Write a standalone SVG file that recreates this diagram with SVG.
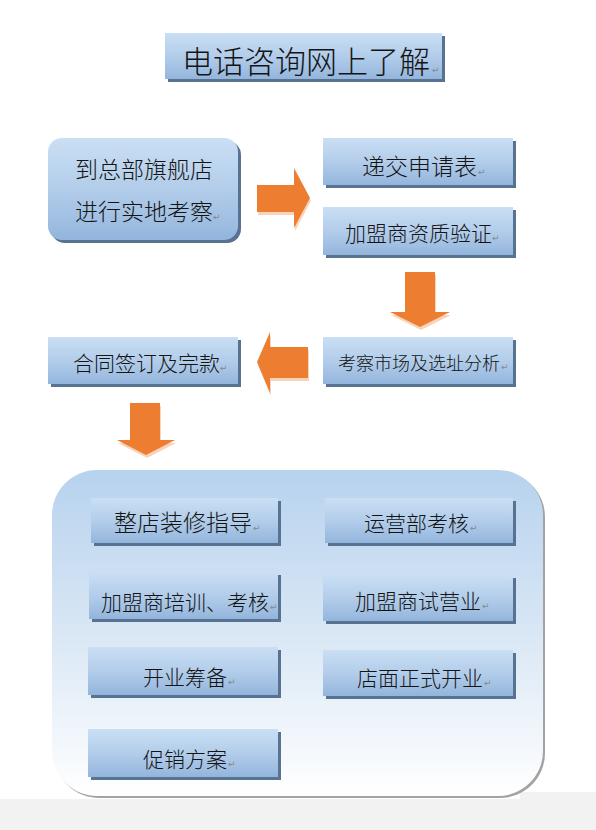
<svg xmlns="http://www.w3.org/2000/svg" width="596" height="830" viewBox="0 0 596 830">
<style>
.bx{fill:url(#boxg)}
.sh{fill:#587392}
.t{font-family:"Noto Sans CJK SC","Noto Sans",sans-serif;font-weight:300;fill:#141414}
.rm{font-family:"DejaVu Sans",sans-serif;font-size:9px;fill:#888}
.arr{fill:#ed7d31}
.arrs{fill:#f3b58a;opacity:0.6}
</style>
<defs>
<linearGradient id="boxg" x1="0" y1="0" x2="0" y2="1">
<stop offset="0" stop-color="#cadff4"/>
<stop offset="0.55" stop-color="#b0cbe9"/>
<stop offset="1" stop-color="#93b5dc"/>
</linearGradient>
<linearGradient id="cont" x1="0" y1="0" x2="0" y2="1">
<stop offset="0" stop-color="#b7d2ee"/>
<stop offset="0.5" stop-color="#d9e7f5"/>
<stop offset="1" stop-color="#ffffff"/>
</linearGradient>
</defs>
<rect x="0" y="0" width="596" height="830" fill="#ffffff"/>
<rect x="0" y="799" width="596" height="31" fill="#f2f2f2"/>
<rect x="520" y="792" width="76" height="8" fill="#f2f2f2"/>

<g id="title">
<rect class="sh" x="168" y="36" width="277" height="46"/>
<rect class="bx" x="165" y="33" width="277" height="46"/>
<text class="t" x="182" y="73" font-size="31">电话咨询网上了解</text>
<text class="rm" x="432" y="73">↵</text>
</g>

<g id="n-visit">
<rect class="sh" x="51" y="141" width="190" height="102" rx="14"/>
<rect class="bx" x="48" y="138" width="190" height="102" rx="14"/>
<text class="t" x="75" y="178" font-size="23">到总部旗舰店</text>
<text class="t" x="75" y="220" font-size="23">进行实地考察</text>
<text class="rm" x="213" y="220">↵</text>
</g>

<g id="n-apply">
<rect class="sh" x="326" y="141" width="190" height="47"/>
<rect class="bx" x="323" y="138" width="190" height="47"/>
<text class="t" x="362" y="175" font-size="23">递交申请表</text>
<text class="rm" x="478" y="175">↵</text>
</g>

<g id="n-verify">
<rect class="sh" x="326" y="210" width="190" height="48"/>
<rect class="bx" x="323" y="207" width="190" height="48"/>
<text class="t" x="345" y="241" font-size="21">加盟商资质验证</text>
<text class="rm" x="492" y="241">↵</text>
</g>

<g id="n-market">
<rect class="sh" x="326" y="340" width="190" height="47"/>
<rect class="bx" x="323" y="337" width="190" height="47"/>
<text class="t" x="338" y="370" font-size="18">考察市场及选址分析</text>
<text class="rm" x="501" y="370">↵</text>
</g>

<g id="n-contract">
<rect class="sh" x="51" y="340" width="190" height="47"/>
<rect class="bx" x="48" y="337" width="190" height="47"/>
<text class="t" x="73" y="371" font-size="21">合同签订及完款</text>
<text class="rm" x="220" y="371">↵</text>
</g>

<g id="connectors">
<polygon class="arrs" points="258,188 295,188 295,171 311,201 295,231 295,215 258,215"/>
<polygon class="arr" points="257,185 294,185 294,168 310,198 294,228 294,212 257,212"/>
<polygon class="arrs" points="406,275 436,275 436,315 451,315 421,330 391,315 406,315"/>
<polygon class="arr" points="405,272 435,272 435,312 450,312 420,327 390,312 405,312"/>
<polygon class="arrs" points="309,350 271,350 271,335 258,365 271,396 271,381 309,381"/>
<polygon class="arr" points="308,347 270,347 270,332 257,362 270,393 270,378 308,378"/>
<polygon class="arrs" points="131,406 161,406 161,443 176,443 147,458 118,443 131,443"/>
<polygon class="arr" points="130,403 160,403 160,440 175,440 146,455 117,440 130,440"/>
</g>

<g id="container">
<rect x="54" y="472" width="491" height="326" rx="45" fill="#a3a3a3"/>
<rect x="52" y="470" width="491" height="326" rx="45" fill="url(#cont)"/>
</g>

<g id="n-decor">
<rect class="sh" x="94" y="501" width="187" height="45"/>
<rect class="bx" x="91" y="498" width="187" height="45"/>
<text class="t" x="114" y="531" font-size="23">整店装修指导</text>
<text class="rm" x="253" y="531">↵</text>
</g>

<g id="n-ops">
<rect class="sh" x="328" y="501" width="188" height="45"/>
<rect class="bx" x="325" y="498" width="188" height="45"/>
<text class="t" x="364" y="531" font-size="21">运营部考核</text>
<text class="rm" x="470" y="531">↵</text>
</g>

<g id="n-train">
<rect class="sh" x="92" y="575" width="189" height="47"/>
<rect class="bx" x="89" y="572" width="189" height="47"/>
<text class="t" x="101" y="610" font-size="21">加盟商培训、考核</text>
<text class="rm" x="270" y="610">↵</text>
</g>

<g id="n-trial">
<rect class="sh" x="326" y="578" width="190" height="46"/>
<rect class="bx" x="323" y="575" width="190" height="46"/>
<text class="t" x="355" y="609" font-size="21">加盟商试营业</text>
<text class="rm" x="482" y="609">↵</text>
</g>

<g id="n-prep">
<rect class="sh" x="91" y="650" width="190" height="48"/>
<rect class="bx" x="88" y="647" width="190" height="48"/>
<text class="t" x="143" y="685" font-size="21">开业筹备</text>
<text class="rm" x="228" y="685">↵</text>
</g>

<g id="n-open">
<rect class="sh" x="326" y="653" width="190" height="46"/>
<rect class="bx" x="323" y="650" width="190" height="46"/>
<text class="t" x="357" y="686" font-size="21">店面正式开业</text>
<text class="rm" x="484" y="686">↵</text>
</g>

<g id="n-promo">
<rect class="sh" x="91" y="732" width="190" height="48"/>
<rect class="bx" x="88" y="729" width="190" height="48"/>
<text class="t" x="143" y="767" font-size="21">促销方案</text>
<text class="rm" x="228" y="767">↵</text>
</g>
</svg>
